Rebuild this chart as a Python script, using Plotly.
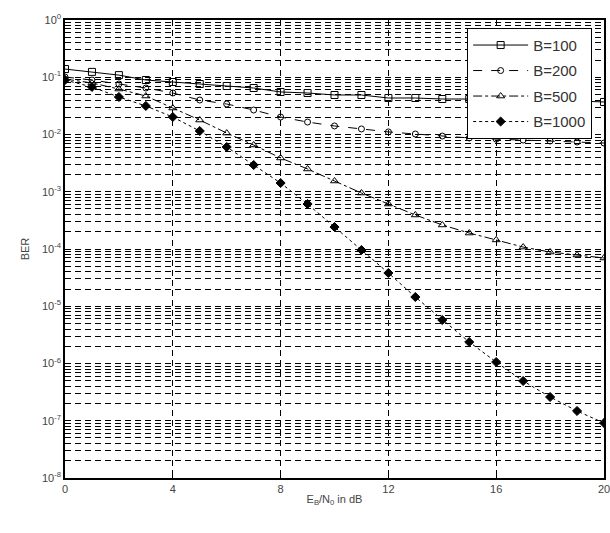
import plotly.graph_objects as go

ebn0 = list(range(0, 21))
ber_b100 = [0.139, 0.124, 0.109, 0.0895, 0.0826, 0.0762, 0.0703, 0.0649, 0.0553, 0.0531,
            0.049, 0.049, 0.0434, 0.0434, 0.0417, 0.0417, 0.040, 0.040, 0.0385, 0.0385, 0.037]
ber_b200 = [0.101, 0.0895, 0.0762, 0.0649, 0.0531, 0.040, 0.0341, 0.0268, 0.0202, 0.0165,
            0.0141, 0.0125, 0.0111, 0.0102, 0.0094, 0.0087, 0.0083, 0.0080, 0.0077, 0.0074, 0.0071]
ber_b500 = [0.0932, 0.0794, 0.0623, 0.047, 0.029, 0.0179, 0.0106, 0.00656, 0.00389, 0.0025,
            0.00154, 0.000951, 0.000611, 0.000393, 0.000263, 0.00019, 0.000144, 0.000108,
            0.0000886, 0.0000786, 0.0000697]
ber_b1000 = [0.0895, 0.0676, 0.0452, 0.0315, 0.0202, 0.0115, 0.00605, 0.00293, 0.00142,
             0.000611, 0.000242, 0.0000961, 0.0000381, 0.0000145, 0.00000575, 0.00000237,
             0.00000106, 4.95e-7, 2.6e-7, 1.48e-7, 9.14e-8]

x_ticks = [0, 4, 8, 12, 16, 20]
y_tickvals = [1e0, 1e-1, 1e-2, 1e-3, 1e-4, 1e-5, 1e-6, 1e-7, 1e-8]
y_ticktext = ["10<sup>0</sup>", "10<sup>-1</sup>", "10<sup>-2</sup>", "10<sup>-3</sup>",
              "10<sup>-4</sup>", "10<sup>-5</sup>", "10<sup>-6</sup>", "10<sup>-7</sup>",
              "10<sup>-8</sup>"]

series = [
    ("B=100", ber_b100, "solid", "square-open", 7),
    ("B=200", ber_b200, "dash", "circle-open", 6),
    ("B=500", ber_b500, "dashdot", "triangle-up-open", 7),
    ("B=1000", ber_b1000, "dot", "diamond", 7),
]

fig = go.Figure()
for name, ys, dash, sym, sz in series:
    fig.add_trace(go.Scatter(
        x=ebn0, y=ys, name=name, mode="lines+markers", legendgroup=name,
        line=dict(color="black", width=1, dash=dash),
        marker=dict(symbol=sym, size=sz, color="black", line=dict(color="black", width=1)),
    ))

fam = "Liberation Sans, Arial, sans-serif"
font = dict(family=fam, size=11, color="#444")

fig.update_layout(
    width=610, height=533,
    margin=dict(l=65, r=6, t=20, b=55, autoexpand=False),
    paper_bgcolor="white", plot_bgcolor="white",
    font=font,
    showlegend=True,
    legend=dict(x=0.978, y=0.983, xanchor="right", yanchor="top",
                bgcolor="white", bordercolor="black", borderwidth=1,
                font=dict(family=fam, size=15, color="#333"),
                itemwidth=55, tracegroupgap=3),
    xaxis=dict(
        range=[0, 20], tickvals=x_ticks, showline=True, linecolor="black", linewidth=1.5,
        mirror=True, ticks="inside", ticklen=4, tickcolor="black", automargin=False,
        ticklabeloverflow="allow",
        showgrid=True, gridcolor="black", gridwidth=1, griddash="6px,4px",
        zeroline=False,
        title=dict(text="E<sub>B</sub>/N<sub>0</sub> in dB", standoff=1,
                   font=dict(family=fam, size=11, color="#444")),
    ),
    yaxis=dict(
        type="log", range=[-8, 0], tickvals=y_tickvals, ticktext=y_ticktext,
        showline=True, linecolor="black", linewidth=1.5, mirror=True,
        ticks="inside", ticklen=4, tickcolor="black", automargin=False,
        showgrid=True, gridcolor="black", gridwidth=1, griddash="6px,4px",
        zeroline=False,
        minor=dict(dtick="D1", showgrid=True, gridcolor="black", gridwidth=1,
                   griddash="6px,4px", ticks="inside", ticklen=3, tickcolor="black"),
        title=dict(text="BER", standoff=10,
                   font=dict(family=fam, size=11, color="#444")),
    ),
)

fig.write_html(
    "out.html",
    config={"displayModeBar": False},
    post_script="document.body.style.margin='0';document.body.style.overflow='hidden';",
)
